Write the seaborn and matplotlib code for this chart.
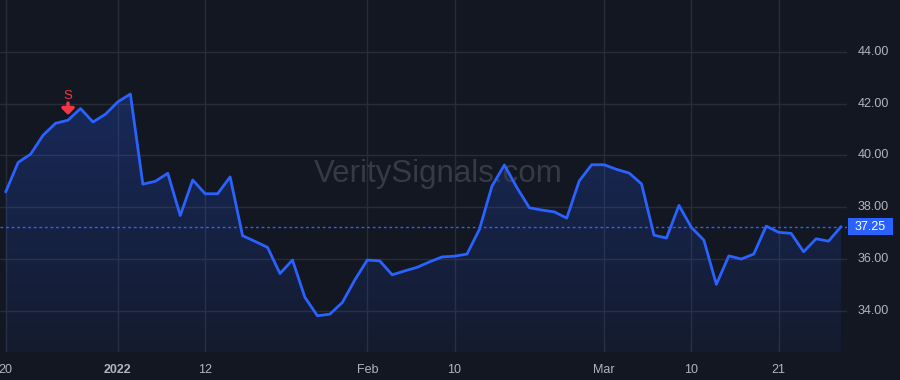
import numpy as np
import pandas as pd
import matplotlib
matplotlib.use("Agg")
import matplotlib.pyplot as plt
import seaborn as sns
from matplotlib.patches import Rectangle
from matplotlib.colors import LinearSegmentedColormap

# ---- data ----
prices = [38.59, 39.73, 40.05, 40.78, 41.24, 41.36, 41.81, 41.29, 41.59, 42.07,
          42.37, 38.89, 39.00, 39.31, 37.68, 39.05, 38.52, 38.52, 39.17, 36.90,
          36.68, 36.45, 35.44, 35.96, 34.52, 33.81, 33.87, 34.32, 35.19, 35.96,
          35.93, 35.39, 35.54, 35.68, 35.89, 36.08, 36.11, 36.19, 37.15, 38.81,
          39.63, 38.76, 37.98, 37.89, 37.82, 37.58, 39.01, 39.64, 39.64, 39.46,
          39.32, 38.90, 36.92, 36.81, 38.07, 37.22, 36.73, 35.02, 36.12, 36.00,
          36.19, 37.27, 37.03, 36.99, 36.28, 36.78, 36.69, 37.25]
bar_index = list(range(len(prices)))
xtick_pos = [0, 9, 16, 29, 36, 48, 55, 62]
xtick_labels = ["20", "2022", "12", "Feb", "10", "Mar", "10", "21"]
ytick_vals = [34, 36, 38, 40, 42, 44]
last_price = 37.25
signal_index = 5
signal_label = "S"
watermark = "VeritySignals.com"

df = pd.DataFrame({"i": bar_index, "price": prices})

BG = "#131722"
GRID = "#282c37"
LINE = "#2962ff"
TXT = "#b2b5be"
RED = "#f23645"

sns.set_theme(style="dark")
plt.rcParams["font.family"] = ["Liberation Sans", "DejaVu Sans"]

W, H = 900, 380
fig = plt.figure(figsize=(9, 3.8), dpi=100, facecolor=BG)
ax = fig.add_axes([0, 28 / H, 847 / W, 352 / H])
ax.set_facecolor(BG)

ymin, ymax = 32.41, 46.0
xmin, xmax = -0.457, 67.48
ax.set_xlim(xmin, xmax)
ax.set_ylim(ymin, ymax)

# grid
for v in ytick_vals:
    ax.axhline(v, color=GRID, lw=1, zorder=0)
for p in xtick_pos:
    ax.axvline(p, color=GRID, lw=1, zorder=0)

# gradient fill under the line
poly = ax.fill_between(df["i"], df["price"], ymin, color="none", lw=0)
grad = np.linspace(0, 1, 256).reshape(-1, 1)
cmap = LinearSegmentedColormap.from_list(
    "g", [(0, (0.16, 0.38, 1.0, 0.06)), (1, (0.16, 0.38, 1.0, 0.26))])
img = ax.imshow(grad, aspect="auto", cmap=cmap, origin="lower",
                extent=[xmin, xmax, ymin, 42.6], zorder=1)
img.set_clip_path(poly.get_paths()[0], transform=ax.transData)

sns.lineplot(data=df, x="i", y="price", ax=ax, color=LINE, lw=2, zorder=3)

# last price dotted line
ax.axhline(last_price, color=LINE, lw=1, ls=(0, (2, 2)), zorder=2)

# watermark
ax.text(0.517, 0.507, watermark, transform=ax.transAxes, ha="center", va="center",
        fontsize=22.5, color="#363a45", zorder=2)

# signal marker
sx = bar_index[signal_index]
sy = prices[signal_index]
ax.annotate("", xy=(sx, sy + 0.2), xytext=(sx, sy + 0.66),
            arrowprops=dict(arrowstyle="-|>,head_width=0.3,head_length=0.3",
                            color=RED, lw=2.5, shrinkA=0, shrinkB=0), zorder=4)
ax.text(sx, sy + 0.92, signal_label, color=RED, ha="center", va="center",
        fontsize=9.5, zorder=4)

# axes ticks
ax.set_xticks([])
ax.set_yticks([])
for s in ax.spines.values():
    s.set_visible(False)
ax.set_xlabel("")
ax.set_ylabel("")

# x labels
for p, lab in zip(xtick_pos, xtick_labels):
    ax.text(p, -0.05, lab, transform=ax.get_xaxis_transform(), ha="center",
            va="center", fontsize=9, color=TXT,
            fontweight="bold" if lab.isdigit() and len(lab) == 4 else "normal",
            clip_on=False)

# y labels on the right
for v in ytick_vals:
    ax.text(1.013, v, f"{v:.2f}", transform=ax.get_yaxis_transform(), ha="left",
            va="center", fontsize=9, color=TXT, clip_on=False)

# last price label box
fy = ax.transData.transform((0, last_price))[1] / (H)
bw, bh = 45 / W, 17 / H
fig.patches.append(Rectangle((848 / W, fy - bh / 2), bw, bh, transform=fig.transFigure,
                             fc=LINE, ec="none", zorder=5))
fig.text(848 / W + bw / 2, fy, f"{last_price:.2f}", ha="center", va="center",
         fontsize=9, color="white", zorder=6)

fig.savefig("out.png", dpi=100, facecolor=BG)
